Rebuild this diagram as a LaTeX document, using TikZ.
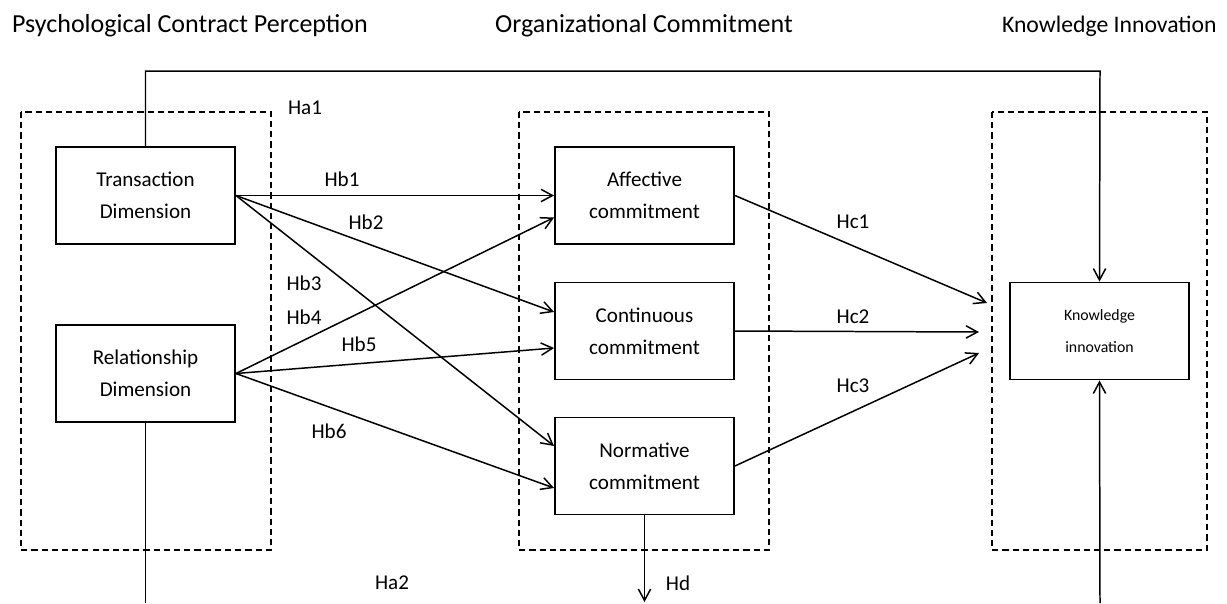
\documentclass[tikz,border=0pt]{standalone}
\usepackage{fontspec}
\setmainfont{Carlito}
\usetikzlibrary{arrows.meta, positioning, calc}

\begin{document}
\begin{tikzpicture}[x=0.02cm, y=-0.02cm,
  >={Straight Barb[length=6.5pt, width=7pt]},
  box/.style={draw, line width=1.1pt, minimum width=3.58cm, minimum height=1.94cm,
              align=center, font=\fontsize{12}{18}\selectfont},
  group/.style={draw, dash pattern=on 3.5pt off 2.3pt, line width=0.8pt},
  link/.style={->, line width=0.85pt},
  hyp/.style={font=\fontsize{12}{14}\selectfont},
  title/.style={font=\fontsize{14.8}{17}\selectfont}]
  \useasboundingbox (0,0) rectangle (1227,603);

  % Headings
  \node[title] (pcp) at (190,26) {Psychological Contract Perception};
  \node[title] (oc)  at (644,26) {Organizational Commitment};
  \node[title, anchor=east, inner sep=0pt, font=\fontsize{13.5}{16}\selectfont] (ki) at (1217,26) {Knowledge Innovation};

  % Dashed groups
  \draw[group] (21,112) rectangle (271,550);
  \draw[group] (519,112) rectangle (769,550);
  \draw[group] (992,112) rectangle (1207,550);

  % Boxes
  \node[box] (trans)  at (145.5,195.5) {Transaction\\Dimension};
  \node[box] (relat)  at (145.5,373.5) {Relationship\\Dimension};
  \node[box] (affect) at (644.5,195.5) {Affective\\commitment};
  \node[box] (contin) at (644.5,331)   {Continuous\\commitment};
  \node[box] (norm)   at (644.5,466)   {Normative\\commitment};
  \node[box, font=\fontsize{9}{18}\selectfont] (know) at (1099.5,331) {Knowledge\\innovation};

  % Free ends
  \coordinate (ha1) at (1100,71);
  \coordinate (ha2l) at (145.5,603);
  \coordinate (ha2r) at (1100,603);
  \coordinate (hdend) at (644.5,602);
  \coordinate (hc1end) at (987,303);
  \coordinate (hc2end) at (979,332);
  \coordinate (hc3end) at (979,353);

  % Ha
  \draw[link] (trans.north) |- (ha1) -- (know.north);
  \draw[line width=0.85pt] (relat.south) -- (ha2l);
  \draw[link] (ha2r) -- (know.south);

  % Hb
  \draw[link] (trans.east) -- (affect.west);
  \draw[link] (trans.east) -- ($(contin.west)+(0,-19)$);
  \draw[link] (trans.east) -- ($(norm.west)+(0,-20)$);
  \draw[link] (relat.east) -- ($(affect.west)+(0,22)$);
  \draw[link] (relat.east) -- ($(contin.west)+(0,17)$);
  \draw[link] (relat.east) -- ($(norm.west)+(0,22)$);

  % Hc, Hd
  \draw[link] (affect.east) -- (hc1end);
  \draw[link] (contin.east) -- (hc2end);
  \draw[link] (norm.east) -- (hc3end);
  \draw[link] (norm.south) -- (hdend);

  % Labels
  \node[hyp] (lha1) at (305,108) {Ha1};
  \node[hyp] (lha2) at (392,583) {Ha2};
  \node[hyp] (lhb1) at (342,179) {Hb1};
  \node[hyp] (lhb2) at (366,222) {Hb2};
  \node[hyp] (lhb3) at (304,283) {Hb3};
  \node[hyp] (lhb4) at (304,317) {Hb4};
  \node[hyp] (lhb5) at (359,344) {Hb5};
  \node[hyp] (lhb6) at (329,431) {Hb6};
  \node[hyp] (lhc1) at (853,222) {Hc1};
  \node[hyp] (lhc2) at (853,317) {Hc2};
  \node[hyp] (lhc3) at (853,386) {Hc3};
  \node[hyp] (lhd)  at (678,583) {Hd};
\end{tikzpicture}
\end{document}
